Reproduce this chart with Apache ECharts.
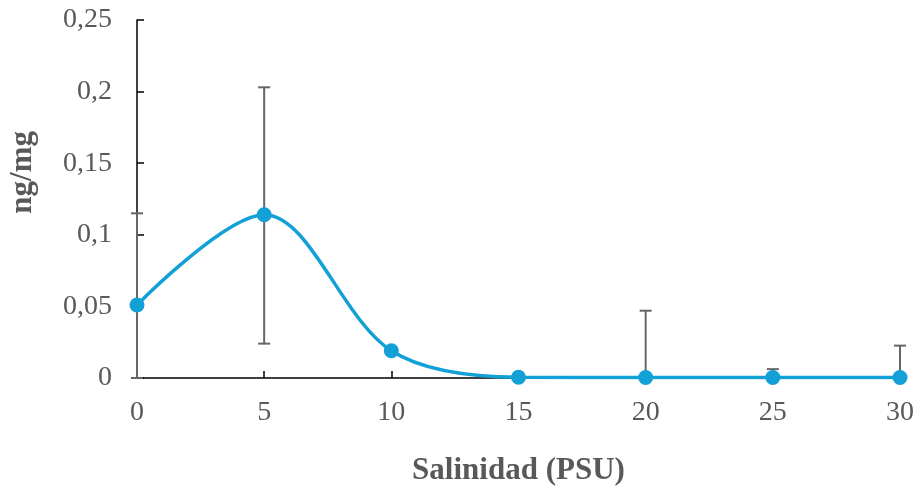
<!DOCTYPE html>
<html><head><meta charset="utf-8">
<script src="https://cdn.jsdelivr.net/npm/echarts@6/dist/echarts.min.js"></script>
<style>html,body{margin:0;padding:0;background:#fff}#c{width:916px;height:489px}</style>
</head><body><div id="c"></div>
<script>
const salinity = [0, 5, 10, 15, 20, 25, 30];
const values = [0.051, 0.114, 0.019, 0.0005, 0.0003, 0.0003, 0.0003];
const errLow = [0, 0.024, 0.019, 0.0005, 0, 0, 0];
const errHigh = [0.115, 0.203, 0.019, 0.002, 0.047, 0.0062, 0.0226];
const xTicks = [0, 5, 10, 15, 20, 25, 30];
const yTicks = [0, 0.05, 0.1, 0.15, 0.2, 0.25];

const chart = echarts.init(document.getElementById('c'));
const font = '"Liberation Serif", "Times New Roman", serif';
chart.setOption({
  animation: false,
  grid: {left: 137, right: 16, top: 20, bottom: 111, containLabel: false, outerBoundsMode: 'none'},
  xAxis: {
    type: 'value', min: 0, max: 30, interval: 5,
    name: 'Salinidad (PSU)', nameLocation: 'middle', nameGap: 77,
    nameTextStyle: {fontFamily: font, fontSize: 31, fontWeight: 'bold', color: '#595959'},
    axisLine: {show: true, lineStyle: {color: '#000', width: 1.5}},
    axisTick: {show: true, inside: true, length: 7, lineStyle: {color: '#000', width: 1.5}},
    axisLabel: {fontFamily: font, fontSize: 28, color: '#595959', margin: 21,
      formatter: v => xTicks.includes(v) ? String(v) : ''},
    splitLine: {show: false}
  },
  yAxis: {
    type: 'value', min: 0, max: 0.25, interval: 0.05,
    axisLine: {show: true, lineStyle: {color: '#000', width: 1.5}},
    axisTick: {show: true, inside: true, length: 7, lineStyle: {color: '#000', width: 1.5}},
    axisLabel: {fontFamily: font, fontSize: 28, color: '#595959', margin: 25,
      formatter: v => {
        const t = yTicks.find(y => Math.abs(y - v) < 1e-9);
        return t === undefined ? '' : String(+t.toFixed(2)).replace('.', ',');
      }},
    splitLine: {show: false}
  },
  graphic: [{
    type: 'text', left: 7, top: 131, rotation: Math.PI / 2,
    style: {text: 'ng/mg', fontFamily: font, fontSize: 31, fontWeight: 'bold', fill: '#595959'}
  }],
  series: [
    {
      type: 'custom', z: 3,
      data: salinity.map((x, i) => [x, errLow[i], errHigh[i]]),
      renderItem: (params, api) => {
        const lo = api.coord([api.value(0), api.value(1)]);
        const hi = api.coord([api.value(0), api.value(2)]);
        const w = 6;
        const st = {stroke: '#666', lineWidth: 2};
        return {type: 'group', children: [
          {type: 'line', shape: {x1: lo[0], y1: lo[1], x2: hi[0], y2: hi[1]}, style: st},
          {type: 'line', shape: {x1: hi[0] - w, y1: hi[1], x2: hi[0] + w, y2: hi[1]}, style: st},
          {type: 'line', shape: {x1: lo[0] - w, y1: lo[1], x2: lo[0] + w, y2: lo[1]}, style: st}
        ]};
      }
    },
    {
      type: 'line', z: 4, smooth: 0.33,
      data: salinity.map((x, i) => [x, values[i]]),
      symbol: 'circle', symbolSize: 15,
      lineStyle: {color: '#12A0D7', width: 3.5},
      itemStyle: {color: '#12A0D7'}
    }
  ]
});
</script></body></html>
